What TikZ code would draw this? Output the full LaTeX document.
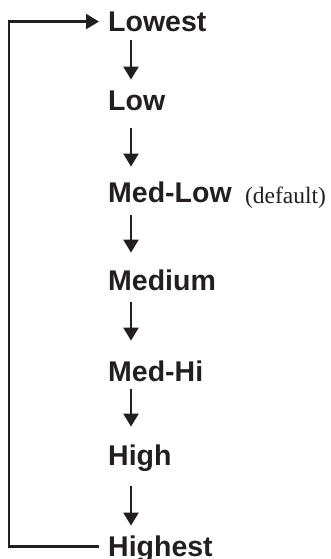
\documentclass[tikz,border=0pt]{standalone}
\usepackage{fontspec}
\setmainfont{Liberation Serif}
\newfontfamily\lblfont{Liberation Sans}
\usetikzlibrary{arrows.meta}
\definecolor{ink}{HTML}{231F20}
\tikzset{
  lvl/.style={anchor=south west, inner sep=0pt, text height=20.5pt, text depth=0pt,
    font=\lblfont\fontsize{28.5}{30}\selectfont\bfseries, text=ink},
  note/.style={anchor=base west, inner sep=0pt, font=\fontsize{23.5}{26}\selectfont, text=ink},
  arr/.style={draw=ink, line width=2.3pt, -{Triangle[length=13pt,width=15pt]}},
}
\begin{document}
\begin{tikzpicture}[x=1pt,y=1pt]
\useasboundingbox (0,0) rectangle (331,-559);
\node[lvl] (lowest)  at (108,-32)  {Lowest};
\node[lvl] (low)     at (108,-111) {Low};
\node[lvl] (medlow)  at (108,-203) {Med-Low};
\node[lvl] (medium)  at (108,-291) {Medium};
\node[lvl] (medhi)   at (108,-382) {Med-Hi};
\node[lvl] (high)    at (108,-466) {High};
\node[lvl] (highest) at (108,-557) {Highest};
\node[note] (def) at ([xshift=13pt]medlow.south east) {(default)};
\coordinate (loopx) at (9,0);
\draw[arr, shorten <=8pt,  shorten >=10.5pt] ([xshift=23pt]lowest.south west) -- ([xshift=23pt]low.north west);
\draw[arr, shorten <=17pt, shorten >=15.5pt] ([xshift=23pt]low.south west) -- ([xshift=23pt]medlow.north west);
\draw[arr, shorten <=12pt, shorten >=17.5pt] ([xshift=23pt]medlow.south west) -- ([xshift=23pt]medium.north west);
\draw[arr, shorten <=11pt, shorten >=20.5pt] ([xshift=23pt]medium.south west) -- ([xshift=23pt]medhi.north west);
\draw[arr, shorten <=7pt,  shorten >=18.5pt] ([xshift=23pt]medhi.south west) -- ([xshift=23pt]high.north west);
\draw[arr, shorten <=20pt, shorten >=10.5pt] ([xshift=23pt]high.south west) -- ([xshift=23pt]highest.north west);
\draw[arr, shorten <=9pt, shorten >=9pt] (highest.west) -- (highest.west -| loopx) |- (lowest.west);
\end{tikzpicture}
\end{document}
